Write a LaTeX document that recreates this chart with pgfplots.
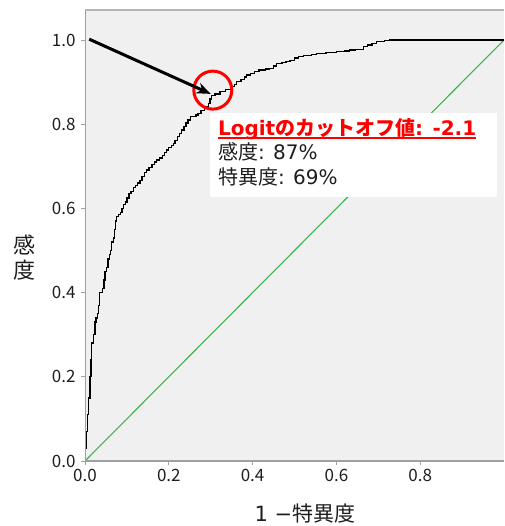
\documentclass[border=0pt]{standalone}
\usepackage{fontspec}
\setmainfont{Noto Sans CJK JP}
\newfontfamily\lat{DejaVu Sans}
\usepackage{pgfplots}
\pgfplotsset{compat=1.18}
\usetikzlibrary{arrows.meta}
\definecolor{bg}{HTML}{F0F0F0}
\definecolor{spine}{HTML}{A0A0A0}
\definecolor{topspine}{HTML}{B4B4B4}
\definecolor{rocgreen}{HTML}{3CB44B}
\definecolor{txt}{HTML}{1E1E1E}
\definecolor{annred}{HTML}{FF0000}
\pgfplotstableread{
x y
0 0
0.002 0.03
0.004 0.07
0.006 0.11
0.008 0.15
0.012 0.20
0.014 0.24
0.016 0.28
0.020 0.30
0.024 0.33
0.026 0.34
0.030 0.35
0.032 0.37
0.034 0.40
0.040 0.40
0.042 0.41
0.045 0.43
0.048 0.45
0.052 0.46
0.055 0.48
0.058 0.49
0.061 0.50
0.064 0.52
0.068 0.53
0.070 0.55
0.072 0.57
0.075 0.58
0.080 0.585
0.084 0.59
0.088 0.60
0.092 0.61
0.096 0.615
0.100 0.625
0.105 0.635
0.110 0.64
0.115 0.65
0.120 0.655
0.125 0.66
0.131 0.667
0.136 0.675
0.142 0.685
0.147 0.691
0.153 0.697
0.160 0.705
0.166 0.71
0.171 0.715
0.178 0.72
0.185 0.725
0.190 0.733
0.195 0.739
0.200 0.745
0.206 0.75
0.211 0.755
0.215 0.762
0.220 0.77
0.225 0.778
0.231 0.786
0.236 0.795
0.241 0.803
0.246 0.81
0.251 0.818
0.265 0.822
0.270 0.825
0.277 0.832
0.285 0.838
0.290 0.842
0.294 0.85
0.298 0.86
0.302 0.869
0.310 0.872
0.322 0.877
0.335 0.882
0.350 0.889
0.356 0.895
0.362 0.901
0.372 0.906
0.380 0.912
0.386 0.917
0.395 0.921
0.405 0.926
0.415 0.929
0.430 0.931
0.441 0.933
0.450 0.938
0.457 0.944
0.470 0.946
0.480 0.949
0.489 0.952
0.500 0.957
0.510 0.960
0.521 0.964
0.540 0.966
0.553 0.968
0.575 0.970
0.601 0.972
0.620 0.974
0.632 0.976
0.645 0.978
0.664 0.984
0.675 0.988
0.685 0.992
0.696 0.996
0.715 0.998
0.728 1.0
1.0 1.0
}\roc
\pgfplotstableread{
x y
0 0
1 1
}\diag
\begin{document}
\begin{tikzpicture}
\begin{axis}[
  width=419pt, height=451pt, scale only axis,
  xmin=0, xmax=1, ymin=0, ymax=1.0713,
  axis background/.style={fill=bg},
  axis line style={draw=none},
  xtick={0,0.2,0.4,0.6,0.8},
  ytick={0,0.2,0.4,0.6,0.8,1.0},
  xtick pos=lower, ytick pos=left,
  tick align=outside, major tick length=4pt,
  tick style={draw=spine, line width=0.8pt},
  ticklabel style={font=\fontsize{17}{20}\selectfont, text=txt},
  /pgf/number format/fixed,
  /pgf/number format/fixed zerofill,
  /pgf/number format/precision=1,
  /pgf/number format/assume math mode=true,
  xticklabel style={yshift=-1pt},
  yticklabel style={xshift=-2pt},
  xlabel={{\lat 1 −}特異度},
  xlabel style={font=\fontsize{21}{24}\selectfont, text=txt, at={(rel axis cs:0.525,0)}, anchor=center, yshift=-52.5pt},
  ylabel={感\\度},
  ylabel style={font=\fontsize{22}{25}\selectfont, text=txt, align=center, rotate=-90, at={(rel axis cs:0,0.451)}, anchor=center, xshift=-60pt},
]
\addplot[rocgreen, line width=1.1pt] table {\diag};
\addplot[black, line width=1.3pt, const plot] table {\roc};
\fill[white] (axis cs:0.298,0.627) rectangle (axis cs:0.983,0.827);
\node[anchor=base west, inner sep=0, text=annred, font=\bfseries\fontsize{20}{23}\selectfont] (t1) at (axis cs:0.317,0.774) {{\lat Logit}のカットオフ値{\lat : -2.1}};
\draw[annred, line width=1.8pt] ([yshift=-3pt]t1.base west) -- ([yshift=-3pt]t1.base east);
\node[anchor=base west, inner sep=0, text=txt, font=\fontsize{20}{23}\selectfont] at (axis cs:0.317,0.715) {感度{\lat : 87\%}};
\node[anchor=base west, inner sep=0, text=txt, font=\fontsize{20}{23}\selectfont] at (axis cs:0.317,0.656) {特異度{\lat : 69\%}};
\draw[annred, line width=3pt] (axis cs:0.305,0.881) circle[radius=19pt];
\draw[-{Stealth[length=14pt,width=11pt]}, line width=3pt, black] (axis cs:0.010,1.002) -- (axis cs:0.300,0.872);
\draw[spine, line width=1.6pt] (rel axis cs:0,1) -- (rel axis cs:0,0) -- (rel axis cs:1,0);
\draw[topspine, line width=2pt] (rel axis cs:0,1) -- (rel axis cs:1,1);
\end{axis}
\pgfresetboundingbox
\path[use as bounding box] (-85pt,-65pt) rectangle (419pt,461pt);
\end{tikzpicture}
\end{document}
